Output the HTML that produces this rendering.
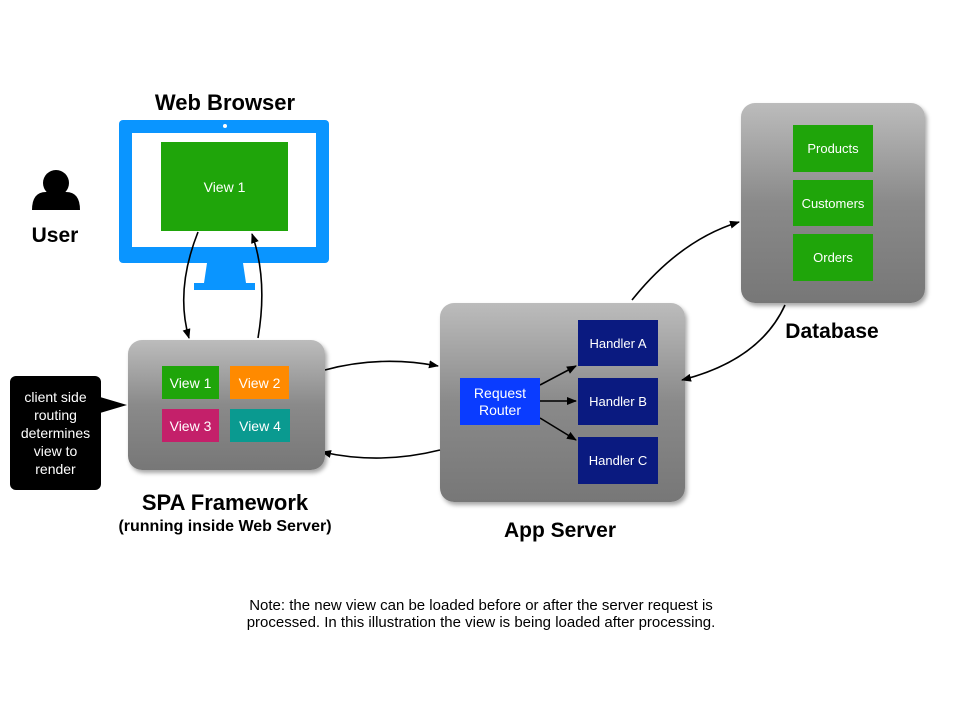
<!DOCTYPE html>
<html><head><meta charset="utf-8"><style>
body{margin:0;width:960px;height:720px;background:#fff;position:relative;font-family:"Liberation Sans",Arial,sans-serif;overflow:hidden}
.a{position:absolute}
.t{position:absolute;text-align:center;color:#000}
.box{position:absolute;color:#fff;display:flex;align-items:center;justify-content:center;text-align:center}
.gray{background:linear-gradient(#bcbcbc,#8a8a8a 50%,#777);border-radius:14px;box-shadow:2px 3px 4px rgba(0,0,0,.35)}
</style></head><body>
<div class="t" style="left:100px;top:90px;width:250px;font-size:22px;font-weight:bold">Web Browser</div>
<div class="a" style="left:119px;top:120px;width:210px;height:143px;background:#0a95ff;border-radius:4px"></div>
<div class="a" style="left:223px;top:124px;width:4px;height:4px;background:#fff;border-radius:2px"></div>
<div class="a" style="left:132px;top:133px;width:184px;height:114px;background:#fff"></div>
<div class="box" style="left:161px;top:142px;width:127px;height:89px;background:#1fa50a;font-size:14px">View 1</div>
<svg class="a" style="left:0;top:0" width="960" height="720">
<defs><marker id="m" markerWidth="10" markerHeight="8" refX="9" refY="4" orient="auto" markerUnits="userSpaceOnUse"><path d="M0,0 L10,4 L0,8z" fill="#000"/></marker></defs>
<polygon points="207,263 243,263 246,283 204,283" fill="#0a95ff"/>
<rect x="194" y="283" width="61" height="7" fill="#0a95ff"/>
<circle cx="56" cy="183" r="13" fill="#000"/>
<path d="M32,210 Q32,192 46,192 L66,192 Q80,192 80,210z" fill="#000"/>
<g fill="none" stroke="#000" stroke-width="1.6" marker-end="url(#m)">
<path d="M198,232 Q175,290 189,338"/>
<path d="M258,338 Q268,280 252,234"/>
<path d="M325,370 Q380,355 438,366"/>
<path d="M440,450 Q380,465 322,452"/>
<path d="M632,300 Q680,240 739,222"/>
<path d="M785,305 Q760,360 682,380"/>
<path d="M540,385 L576,366"/>
<path d="M540,401 L576,401"/>
<path d="M540,418 L576,440"/>
</g>
</svg>
<div class="t" style="left:10px;top:224px;width:90px;font-size:21px;font-weight:bold">User</div>
<div class="a gray" style="left:128px;top:340px;width:197px;height:130px"></div>
<div class="box" style="left:162px;top:366px;width:57px;height:33px;background:#1fa50a;font-size:14px">View 1</div>
<div class="box" style="left:230px;top:366px;width:59px;height:33px;background:#ff8a00;font-size:14px">View 2</div>
<div class="box" style="left:162px;top:409px;width:57px;height:33px;background:#c4206a;font-size:14px">View 3</div>
<div class="box" style="left:230px;top:409px;width:60px;height:33px;background:#0a9a90;font-size:14px">View 4</div>
<div class="box" style="left:10px;top:376px;width:91px;height:114px;background:#000;border-radius:6px;font-size:14px;line-height:18px">client side<br>routing<br>determines<br>view to<br>render</div>
<svg class="a" style="left:100px;top:395px" width="30" height="25"><polygon points="0,2 27,10 0,18" fill="#000"/></svg>
<div class="t" style="left:90px;top:490px;width:270px;font-size:22px;font-weight:bold">SPA Framework</div>
<div class="t" style="left:80px;top:518px;width:290px;font-size:16px;font-weight:bold">(running inside Web Server)</div>
<div class="a gray" style="left:440px;top:303px;width:245px;height:199px;z-index:-1"></div>
<div class="box" style="left:460px;top:378px;width:80px;height:47px;background:#0a3cff;font-size:14px;line-height:17px">Request<br>Router</div>
<div class="box" style="left:578px;top:320px;width:80px;height:46px;background:#0a1a80;font-size:13px">Handler A</div>
<div class="box" style="left:578px;top:378px;width:80px;height:47px;background:#0a1a80;font-size:13px">Handler B</div>
<div class="box" style="left:578px;top:437px;width:80px;height:47px;background:#0a1a80;font-size:13px">Handler C</div>
<div class="t" style="left:460px;top:519px;width:200px;font-size:21px;font-weight:bold">App Server</div>
<div class="box" style="left:793px;top:125px;width:80px;height:47px;background:#1fa50a;font-size:13px">Products</div>
<div class="a gray" style="left:741px;top:103px;width:184px;height:200px;z-index:-1"></div>
<div class="box" style="left:793px;top:180px;width:80px;height:46px;background:#1fa50a;font-size:13px">Customers</div>
<div class="box" style="left:793px;top:234px;width:80px;height:47px;background:#1fa50a;font-size:13px">Orders</div>
<div class="t" style="left:742px;top:320px;width:180px;font-size:21px;font-weight:bold">Database</div>
<div class="t" style="left:180px;top:597px;width:602px;font-size:15px;line-height:17px">Note: the new view can be loaded before or after the server request is<br>processed. In this illustration the view is being loaded after processing.</div>
</body></html>
